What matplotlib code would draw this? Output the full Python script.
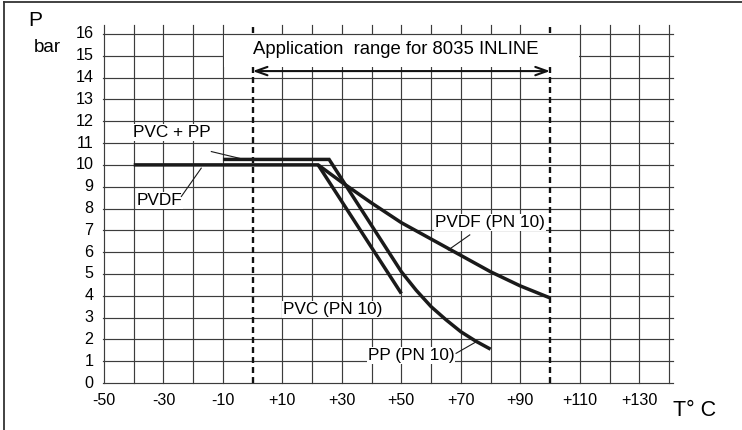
import matplotlib
matplotlib.use("Agg")
import matplotlib.pyplot as plt
from matplotlib.patches import Rectangle
from matplotlib.lines import Line2D

plt.rcParams['font.family'] = ['Liberation Sans', 'DejaVu Sans']
plt.rcParams['lines.scale_dashes'] = False

# ---- data ----
x_ticks = [-50, -30, -10, 10, 30, 50, 70, 90, 110, 130]
x_tick_labels = ['-50', '-30', '-10', '+10', '+30', '+50', '+70', '+90', '+110', '+130']
y_ticks = list(range(0, 17))
y_tick_labels = [str(v) for v in y_ticks]

# PVC + PP plateau continuing as PP (PN 10)
temp_pp = [-10, 25.7, 50, 55, 60, 65, 70, 75, 80]
pres_pp = [10.25, 10.25, 5.1, 4.25, 3.5, 2.9, 2.35, 1.92, 1.55]
# PVDF plateau continuing as PVDF (PN 10)
temp_pvdf = [-40, 22, 30, 40, 50, 60, 70, 80, 90, 100]
pres_pvdf = [10, 10, 9.2, 8.25, 7.35, 6.6, 5.85, 5.1, 4.45, 3.9]
# PVC (PN 10)
temp_pvc = [22, 50]
pres_pvc = [10, 4.1]

app_range = [0, 100]
app_text = 'Application  range for 8035 INLINE'

# ---- figure ----
W, H = 742, 430
fig = plt.figure(figsize=(W / 100, H / 100), dpi=100)
ax = fig.add_axes([0, 0, 1, 1])
ax.axis('off')
sx = 565 / 190.0
x0px = 104 + 50 * sx
sy = 349 / 16.0
y0px = 383
ax.set_xlim((0 - x0px) / sx, (W - x0px) / sx)
ax.set_ylim((y0px - H) / sy, y0px / sy)

gcol = '#3c3c3c'
glw = 0.85
# vertical grid lines
for xv in range(-50, 141, 10):
    if xv in app_range:
        continue
    ax.plot([xv, xv], [0, 16.4], color=gcol, lw=glw, zorder=1)
# horizontal grid lines
for yv in range(0, 17):
    ax.plot([-50.3, 141.5], [yv, yv], color=gcol, lw=glw, zorder=1 if yv != 16 else 3)

# dashed application-range limits
for xv in app_range:
    ax.plot([xv, xv], [0, 16.4], color='#111111', lw=1.7, linestyle=(0, (4.3, 2.9)), zorder=1)

# white box behind application text
ax.add_patch(Rectangle((-9.7, 14.5), 119.4, 1.48, facecolor='white', edgecolor='none', zorder=2))
ax.text(0, 15.3, app_text, fontsize=13.3, ha='left', va='center', zorder=4)
ax.annotate('', xy=(app_range[0], 14.3), xytext=(app_range[1], 14.3),
            arrowprops=dict(arrowstyle='<->,head_length=0.7,head_width=0.25', color='#111111',
                            lw=1.5, shrinkA=0, shrinkB=0, mutation_scale=12), zorder=4)

# curves
ccol = '#1a1a1a'
for xs, ys in [(temp_pp, pres_pp), (temp_pvdf, pres_pvdf), (temp_pvc, pres_pvc)]:
    ax.plot(xs, ys, color=ccol, lw=2.5, solid_joinstyle='miter', solid_capstyle='butt', zorder=5)

# tick labels
for xv, lab in zip(x_ticks, x_tick_labels):
    ax.text(xv, -0.78, lab, fontsize=11.6, ha='center', va='center')
for yv, lab in zip(y_ticks, y_tick_labels):
    ax.text(-53.5, yv, lab, fontsize=11.6, ha='right', va='center')

ax.text((35 - x0px) / sx, (y0px - 20) / sy, 'P', fontsize=15, ha='center', va='center')
ax.text((47 - x0px) / sx, (y0px - 47) / sy, 'bar', fontsize=13.5, ha='center', va='center')
ax.text((695 - x0px) / sx, (y0px - 410) / sy, 'T° C', fontsize=15.5, ha='center', va='center')

# curve annotations
bb = dict(facecolor='white', edgecolor='none', pad=0.8)
llw = 0.8
ax.text(-40.1, 11.47, 'PVC + PP', fontsize=12.4, ha='left', va='center', bbox=bb, zorder=6)
ax.plot([-13.9, -4.4], [10.61, 10.3], color=ccol, lw=llw, zorder=6)
ax.text(-39.0, 8.35, 'PVDF', fontsize=12.4, ha='left', va='center', bbox=bb, zorder=6)
ax.plot([-24.0, -17.3], [8.55, 9.85], color=ccol, lw=llw, zorder=6)
ax.text(61.3, 7.36, 'PVDF (PN 10)', fontsize=12.4, ha='left', va='center', bbox=bb, zorder=6)
ax.plot([73.0, 65.8], [6.79, 6.1], color=ccol, lw=llw, zorder=6)
ax.text(10.1, 3.35, 'PVC (PN 10)', fontsize=12.4, ha='left', va='center', bbox=bb, zorder=6)
ax.text(38.7, 1.24, 'PP (PN 10)', fontsize=12.4, ha='left', va='center', bbox=bb, zorder=6)
ax.plot([68.4, 75.3], [1.36, 1.9], color=ccol, lw=llw, zorder=6)

# figure frame (left and top edges)
fig.add_artist(Line2D([4 / W, 4 / W], [0, 1 - 2 / H], transform=fig.transFigure, color='#333333', lw=1.3))
fig.add_artist(Line2D([4 / W, 1], [1 - 2 / H, 1 - 2 / H], transform=fig.transFigure, color='#333333', lw=1.3))

fig.savefig('out.png', dpi=100)
